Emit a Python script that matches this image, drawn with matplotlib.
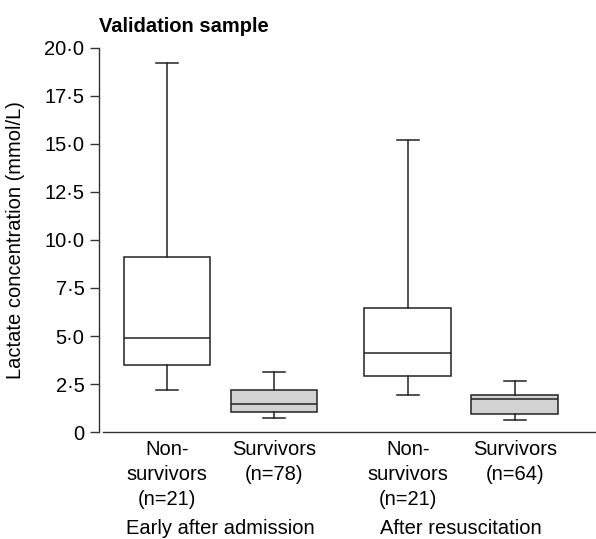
import matplotlib
matplotlib.use('Agg')
import matplotlib.pyplot as plt

plt.rcParams['font.family'] = ['Liberation Sans', 'DejaVu Sans']

# box statistics (mmol/L)
labels = ['Non-\nsurvivors\n(n=21)', 'Survivors\n(n=78)', 'Non-\nsurvivors\n(n=21)', 'Survivors\n(n=64)']
whisker_low = [2.2, 0.72, 1.95, 0.6]
q1 = [3.5, 1.05, 2.9, 0.95]
median = [4.9, 1.45, 4.1, 1.72]
q3 = [9.1, 2.2, 6.45, 1.95]
whisker_high = [19.2, 3.1, 15.2, 2.65]
fills = ['white', '#d2d2d2', 'white', '#d2d2d2']
groups = ['Early after admission', 'After resuscitation']
positions = [1, 2, 3.25, 4.25]

stats = []
for i in range(len(labels)):
    stats.append({'whislo': whisker_low[i], 'q1': q1[i], 'med': median[i],
                  'q3': q3[i], 'whishi': whisker_high[i], 'fliers': []})

fig = plt.figure(figsize=(5.96, 5.39), dpi=100)
ax = fig.add_axes([99 / 596, 1 - 432 / 539, 1 - 99 / 596, 384 / 539])

lw = 1.1
bp = ax.bxp(stats, positions=positions, widths=0.81, patch_artist=True, showfliers=False,
            boxprops=dict(linewidth=lw, edgecolor='#222222'),
            medianprops=dict(linewidth=lw, color='#222222'),
            whiskerprops=dict(linewidth=lw, color='#222222'),
            capprops=dict(linewidth=lw, color='#222222'), capwidths=0.2)
for patch, c in zip(bp['boxes'], fills):
    patch.set_facecolor(c)

ax.set_ylim(0, 20)
ax.set_xlim(0.364, 0.364 + 497 / 107)
ax.set_yticks([0, 2.5, 5, 7.5, 10, 12.5, 15, 17.5, 20])
ax.set_yticklabels(['0', '2·5', '5·0', '7·5', '10·0', '12·5', '15·0', '17·5', '20·0'])
ax.tick_params(axis='y', length=6.5, width=1, labelsize=14.5, pad=4, color='#333333')
ax.tick_params(axis='x', length=0, labelsize=14.5, pad=6)
ax.set_xticks(positions)
ax.set_xticklabels(labels, linespacing=1.4)

for s in ['top', 'right']:
    ax.spines[s].set_visible(False)
ax.spines['left'].set_linewidth(1)
ax.spines['left'].set_color('#333333')
ax.spines['bottom'].set_linewidth(1)
ax.spines['bottom'].set_color('#333333')
ax.spines['bottom'].set_bounds(0.364 + 4 / 107, 0.364 + 497 / 107)

ax.set_ylabel('Lactate concentration (mmol/L)', fontsize=14.5)
ax.yaxis.set_label_coords(-0.148, 0.5)

for g, name in enumerate(groups):
    xc = (positions[2 * g] + positions[2 * g + 1]) / 2
    ax.text(xc, 1 - 529 / 539, name, transform=ax.get_xaxis_transform().__class__(ax.transData, fig.transFigure),
            ha='center', va='center', fontsize=14.5)

fig.text(99 / 596, 1 - 26 / 539, 'Validation sample', fontsize=14.5, fontweight='bold',
         ha='left', va='center')

fig.savefig('out.png', dpi=100)
